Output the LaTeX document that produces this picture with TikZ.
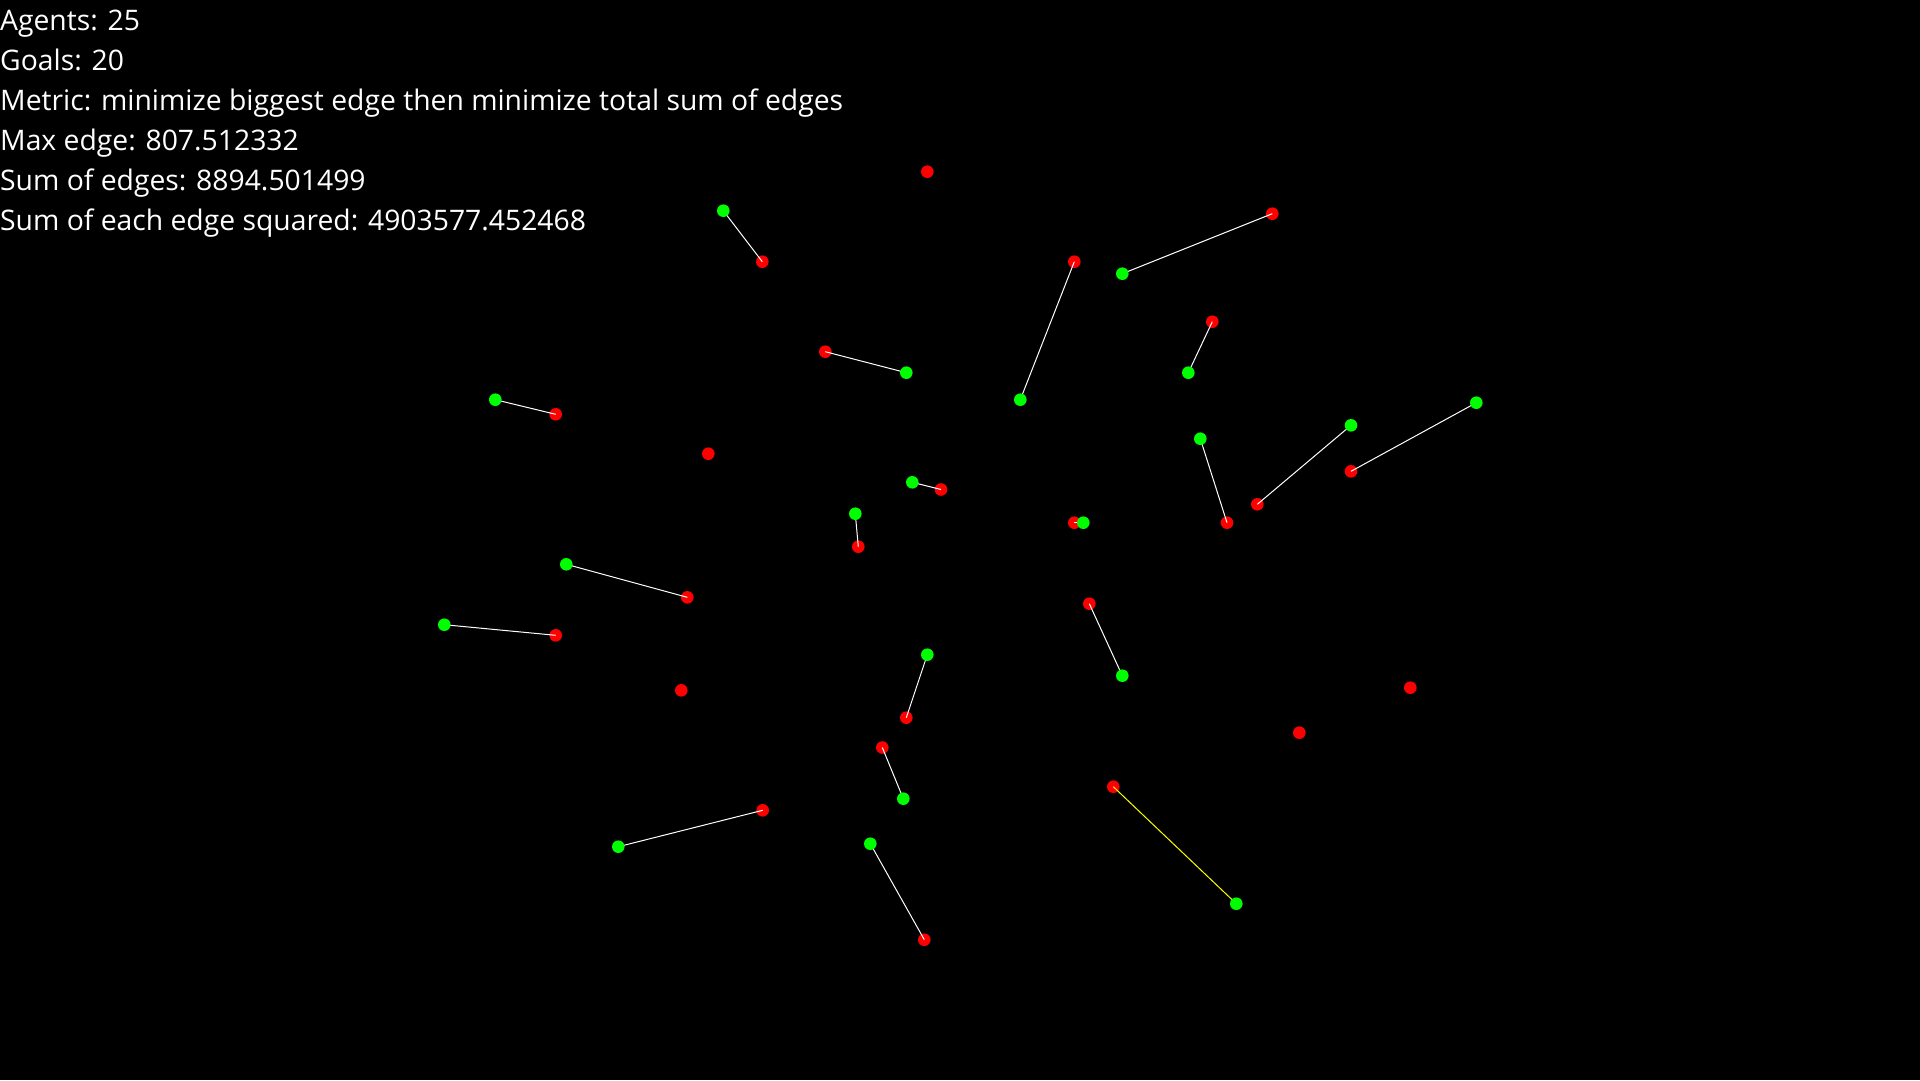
\documentclass[tikz,border=0pt]{standalone}
\usepackage{fontspec}
\setmainfont{Open Sans}
\pgfdeclarelayer{bg}
\pgfdeclarelayer{reds}
\pgfdeclarelayer{edges}
\pgfsetlayers{bg,reds,edges,main}
\begin{document}
\begin{tikzpicture}[x=1pt,y=-1pt,
  goal/.style={circle,fill={rgb,255:red,0;green,255;blue,0},draw=none,minimum size=12.6pt,inner sep=0pt},
  agent/.style={circle,fill={rgb,255:red,255;green,0;blue,0},draw=none,minimum size=12.6pt,inner sep=0pt},
  edge/.style={draw=white,line width=1pt},
  maxedge/.style={draw={rgb,255:red,255;green,255;blue,0},line width=1pt},
  info/.style={anchor=base west,inner sep=0pt,text=white,font=\fontsize{28.3}{34}\selectfont}]
\begin{pgfonlayer}{bg}
\fill[black] (0,0) rectangle (1920,1080);
\end{pgfonlayer}
\useasboundingbox (0,0) rectangle (1920,1080);
% text
\node[info] (t1) at (0,30) {Agents: 25};
\node[info] (t2) at (0,70) {Goals: 20};
\node[info] (t3) at (0,110) {Metric: minimize biggest edge then minimize total sum of edges};
\node[info] (t4) at (0,150) {Max edge: 807.512332};
\node[info] (t5) at (0,190) {Sum of edges: 8894.501499};
\node[info] (t6) at (0,230) {Sum of each edge squared: 4903577.452468};
% red dots
\begin{pgfonlayer}{reds}
\foreach \n/\x/\y in {1/762.3/261.7, 2/1272.3/213.7, 3/825.3/351.7, 4/1074.3/261.7,
  5/1212.3/321.7, 6/555.7/414.3, 7/1351/471.3, 8/1257.3/504.3, 9/1227/522.7,
  10/941/489.5, 11/858.3/546.7, 12/1074.3/522.7, 13/687.3/597.3, 14/555.7/635.3,
  15/906.3/717.7, 16/1089.3/603.7, 17/882.3/747.5, 18/762.7/810.3, 19/924.3/939.7,
  20/1113.3/786.7, 21/927.3/171.7, 22/708.3/453.7, 23/681.3/690.3, 24/1410.3/687.7,
  25/1299.3/732.7}
  \node[agent] (r\n) at (\x,\y) {};
\end{pgfonlayer}
% green dots
\foreach \n/\x/\y in {1/723.3/210.7, 2/1122.3/273.7, 3/906.3/372.7, 4/1020.3/399.7,
  5/1188.3/372.7, 6/495.3/399.7, 7/1476.3/402.7, 8/1351/425.3, 9/1200.3/438.7,
  10/912.3/482.3, 11/855.3/513.7, 12/1083.3/522.7, 13/566.3/564.3, 14/444.3/624.7,
  15/927.3/654.7, 16/1122.3/675.7, 17/903.3/798.7, 18/618.3/846.7, 19/870.3/843.7,
  20/1236.3/903.7}
  \node[goal] (g\n) at (\x,\y) {};
% edges
\begin{pgfonlayer}{edges}
\foreach \n in {1,...,19}
  \draw[edge] (g\n.center) -- (r\n.center);
\draw[maxedge] (g20.center) -- (r20.center);
\end{pgfonlayer}
\end{tikzpicture}
\end{document}
